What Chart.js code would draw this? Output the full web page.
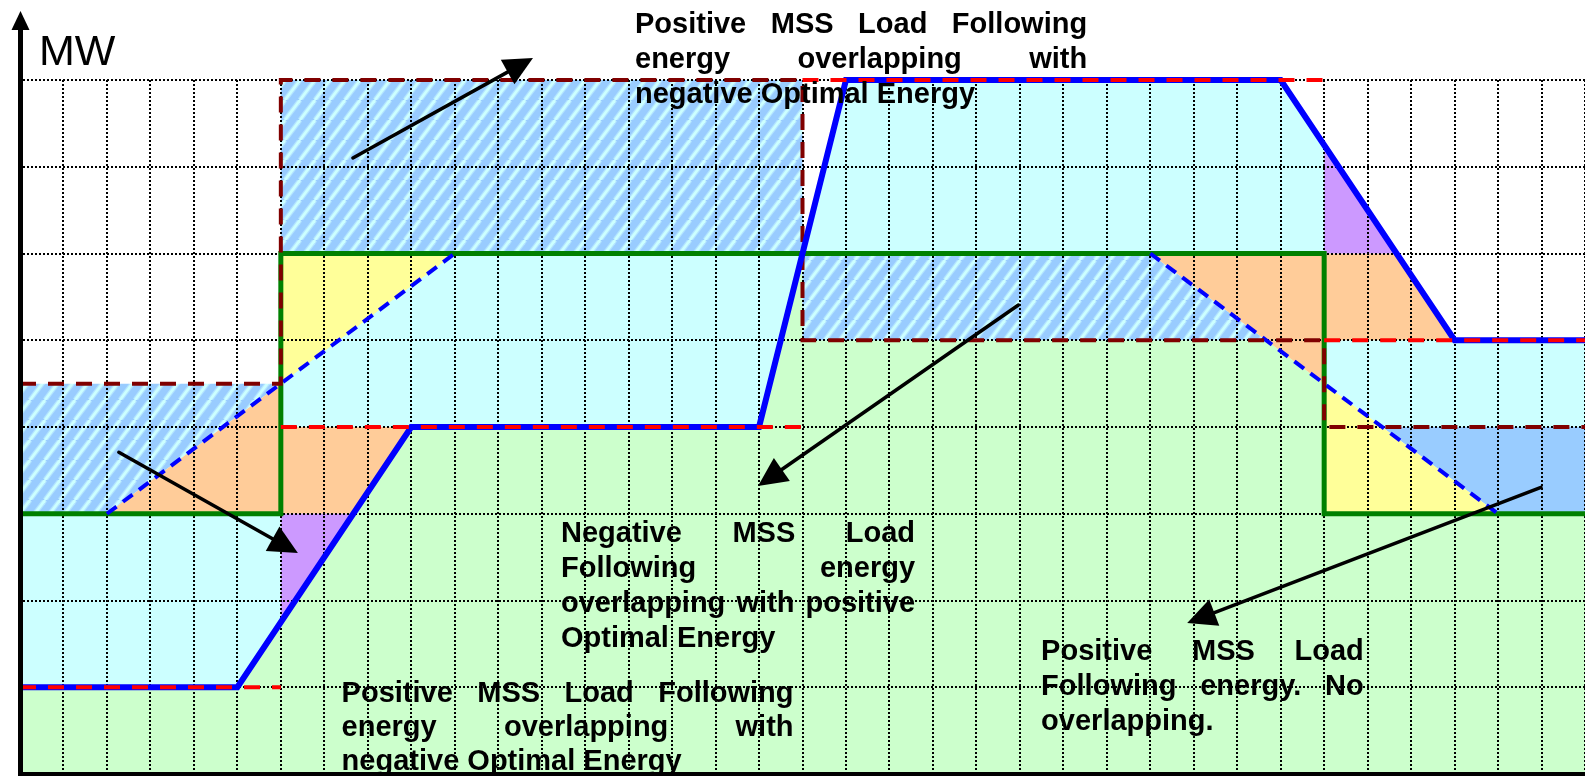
<!DOCTYPE html>
<html>
<head>
<meta charset="utf-8">
<title>MSS Load Following energy</title>
<script src="https://cdn.jsdelivr.net/npm/chart.js@4.4.1/dist/chart.umd.min.js"></script>
<style>
  html, body { margin: 0; padding: 0; background: #fff; overflow: hidden; }
  #wrap { position: relative; width: 1585px; height: 776px; }
  canvas { display: block; }
</style>
</head>
<body>
<div id="wrap"><canvas id="c" width="1585" height="776"></canvas></div>
<script>
// ---- Axes: time in grid columns, power (MW) in grid rows ----
const xRange = [0, 36];
const yRange = [0, 8];

// ---- Schedules (x, MW); null breaks the line ----
const optimalStep = [[0, 3], [6, 3], [6, 6], [30, 6], [30, 3], [36, 3]];
const optimalRamp = [[2, 3], [10, 6], null, [26, 6], [34, 3]];
const mssTarget   = [[0, 1], [6, 1], null, [6, 4], [18, 4], null, [18, 8], [30, 8], null, [30, 5], [36, 5]];
const mssRamp     = [[0, 1], [5, 1], [9, 4], [17, 4], [19, 8], [29, 8], [33, 5], [36, 5]];
const bandLimit   = [[0, 4.5], [6, 4.5], [6, 8], [18, 8], [18, 5], [30, 5], [30, 4], [36, 4]];

// ---- Energy areas (polygon corners) ----
const areaBase     = [[0, 0], [0, 1], [5, 1], [9, 4], [17, 4], [18, 6], [18, 5], [28.667, 5], [30, 4.5], [30, 3], [36, 3], [36, 0]];
const cyanLeft     = [[0, 1], [5, 1], [6, 1.75], [6, 3], [0, 3]];
const cyanMid      = [[6, 4], [17, 4], [18, 6], [19, 8], [29, 8], [30, 7.25], [30, 6], [6, 6]];
const cyanRight    = [[30, 4.5], [30, 5], [36, 5], [36, 4], [31.333, 4]];
const hatchLeft    = [[0, 3], [2, 3], [6, 4.5], [0, 4.5]];
const hatchTop     = [[6, 6], [6, 8], [18, 8], [18, 6]];
const hatchMid     = [[18, 5], [18, 6], [26, 6], [28.667, 5]];
const blueRight    = [[31.333, 4], [36, 4], [36, 3], [34, 3]];
const orangeLeft   = [[2, 3], [6, 3], [6, 4.5]];
const orangeLow    = [[6, 3], [7.667, 3], [9, 4], [6, 4]];
const orangeRight1 = [[26, 6], [30, 6], [30, 4.5]];
const orangeRight2 = [[30, 5], [30, 6], [31.667, 6], [33, 5]];
const purpleLeft   = [[6, 1.75], [6, 3], [7.667, 3]];
const purpleRight  = [[30, 6], [30, 7.25], [31.667, 6]];
const yellowLeft   = [[6, 4.5], [6, 6], [10, 6]];
const yellowRight  = [[30, 3], [30, 4.5], [34, 3]];

// ---- Annotations ----
const arrowTails = [[7.658, 7.101], [2.273, 3.708], [22.967, 5.406], [34.987, 3.305]];
const arrowTips  = [[11.80, 8.254], [6.392, 2.548], [16.977, 3.320], [26.849, 1.741]];
const noteLines = [
  ['Positive MSS Load Following', 'energy overlapping with', 'negative Optimal Energy'],
  ['Negative MSS Load', 'Following energy', 'overlapping with positive', 'Optimal Energy'],
  ['Positive MSS Load Following', 'energy overlapping with', 'negative Optimal Energy'],
  ['Positive MSS Load', 'Following energy. No', 'overlapping.']
];
const noteLeft  = [14.147, 12.444, 7.398, 23.489];
const noteRight = [24.548, 20.589, 17.794, 30.910];
const noteTop   = [8.542, 2.680, 0.830, 1.314];
const noteLineHeight = [35, 35, 34, 35];

// ---- Styling ----
const C = {
  green: '#CCFFCC', cyan: '#CCFFFF', blue: '#99CCFF',
  orange: '#FFCC99', yellow: '#FFFF99', purple: '#CC99FF'
};
const FONT = '"Liberation Sans", Arial, Helvetica, sans-serif';

const canvas = document.getElementById('c');
const ctx0 = canvas.getContext('2d');

function makeHatch() {
  const w = 15, h = 20;
  const t = document.createElement('canvas');
  t.width = w; t.height = h;
  const g = t.getContext('2d');
  g.fillStyle = C.blue;
  g.fillRect(0, 0, w, h);
  const stripe = (lw, col) => {
    g.strokeStyle = col; g.lineWidth = lw;
    for (let k = -1; k <= 1; k++) {
      g.beginPath(); g.moveTo(k * w, h); g.lineTo(k * w + w, 0); g.stroke();
    }
  };
  stripe(5, '#B4E4FF');
  stripe(2.6, '#CCFFFF');
  return ctx0.createPattern(t, 'repeat');
}
const hatch = makeHatch();

const toXY = pts => pts.map((p, i) => p ? {x: p[0], y: p[1]} : {x: pts[i - 1][0], y: null});

const fillLayers = [
  [areaBase, C.green],
  [cyanLeft, C.cyan], [cyanMid, C.cyan], [cyanRight, C.cyan],
  [hatchLeft, hatch], [hatchTop, hatch], [hatchMid, hatch],
  [blueRight, C.blue],
  [orangeLeft, C.orange], [orangeLow, C.orange], [orangeRight1, C.orange], [orangeRight2, C.orange],
  [purpleLeft, C.purple], [purpleRight, C.purple],
  [yellowLeft, C.yellow], [yellowRight, C.yellow]
];

const lineLayers = [
  {label: 'Optimal Energy', data: optimalStep, color: '#008000', width: 5, dash: []},
  {label: 'Optimal Energy (ramped)', data: optimalRamp, color: '#0000FF', width: 4, dash: [12, 8]},
  {label: 'Band limit', data: bandLimit, color: '#800000', width: 4, dash: [16, 12]},
  {label: 'MSS Load Following', data: mssRamp, color: '#0000FF', width: 6, dash: []},
  {label: 'MSS target', data: mssTarget, color: '#FF0000', width: 4, dash: [16, 12]}
];

const datasets = [];
fillLayers.forEach(([pts, col], i) => {
  datasets.push({
    data: toXY(pts),
    backgroundColor: col,
    borderColor: 'rgba(0,0,0,0)',
    borderWidth: 0,
    fill: 'shape',
    pointRadius: 0,
    tension: 0,
    order: 1000 - i
  });
});
lineLayers.forEach((l, i) => {
  datasets.push({
    label: l.label,
    data: toXY(l.data),
    borderColor: l.color,
    borderWidth: l.width,
    borderDash: l.dash,
    borderCapStyle: 'butt',
    borderJoinStyle: 'miter',
    fill: false,
    pointRadius: 0,
    tension: 0,
    spanGaps: false,
    clip: 8,
    order: 100 - i
  });
});

// Axis arrow, unit label, arrows and notes
const overlay = {
  id: 'overlay',
  afterDraw(chart) {
    const {ctx, chartArea: a, scales: {x, y}} = chart;
    ctx.save();

    // vertical axis extension with arrow head
    const ax = a.left + 0.5;
    ctx.strokeStyle = '#000';
    ctx.fillStyle = '#000';
    ctx.lineWidth = 5;
    ctx.beginPath(); ctx.moveTo(ax, a.top + 2); ctx.lineTo(ax, a.top - 52); ctx.stroke();
    ctx.beginPath();
    ctx.moveTo(ax - 9, a.top - 50);
    ctx.lineTo(ax + 9, a.top - 50);
    ctx.lineTo(ax, a.top - 69);
    ctx.closePath(); ctx.fill();

    ctx.font = '43px ' + FONT;
    ctx.textBaseline = 'alphabetic';
    ctx.textAlign = 'left';
    ctx.fillText('MW', a.left + 19, a.top - 15);

    // arrows
    const headLen = 29, headHalf = 14;
    arrowTails.forEach((t, i) => {
      const x1 = x.getPixelForValue(t[0]), y1 = y.getPixelForValue(t[1]);
      const x2 = x.getPixelForValue(arrowTips[i][0]), y2 = y.getPixelForValue(arrowTips[i][1]);
      const len = Math.hypot(x2 - x1, y2 - y1);
      const ux = (x2 - x1) / len, uy = (y2 - y1) / len;
      const bx = x2 - ux * headLen, by = y2 - uy * headLen;
      ctx.lineWidth = 3.5;
      ctx.lineCap = 'round';
      ctx.beginPath(); ctx.moveTo(x1, y1); ctx.lineTo(bx + ux * 4, by + uy * 4); ctx.stroke();
      ctx.beginPath();
      ctx.moveTo(x2, y2);
      ctx.lineTo(bx - uy * headHalf, by + ux * headHalf);
      ctx.lineTo(bx + uy * headHalf, by - ux * headHalf);
      ctx.closePath(); ctx.fill();
    });

    // justified notes
    ctx.font = 'bold 29px ' + FONT;
    noteLines.forEach((lines, b) => {
      const left = x.getPixelForValue(noteLeft[b]);
      const right = x.getPixelForValue(noteRight[b]);
      const top = y.getPixelForValue(noteTop[b]);
      lines.forEach((line, k) => {
        const yy = top + k * noteLineHeight[b];
        const words = line.split(' ');
        if (k === lines.length - 1 || words.length < 2) {
          ctx.fillText(line, left, yy);
          return;
        }
        const widths = words.map(w => ctx.measureText(w).width);
        const total = widths.reduce((s, v) => s + v, 0);
        const gap = (right - left - total) / (words.length - 1);
        let cx = left;
        words.forEach((w, j) => { ctx.fillText(w, cx, yy); cx += widths[j] + gap; });
      });
    });
    ctx.restore();
  }
};

const gridStyle = {
  color: '#000',
  lineWidth: 2,
  drawTicks: false,
  drawOnChartArea: true
};

new Chart(canvas, {
  type: 'line',
  data: {datasets},
  options: {
    responsive: false,
    animation: false,
    events: [],
    layout: {padding: {left: 20, right: 0, top: 80, bottom: 2}},
    plugins: {
      legend: {display: false},
      tooltip: {enabled: false},
      filler: {drawTime: 'beforeDraw'}
    },
    scales: {
      x: {
        type: 'linear',
        min: xRange[0], max: xRange[1],
        ticks: {display: false, stepSize: 1},
        grid: gridStyle,
        border: {display: true, color: '#000', width: 4, dash: [2, 2], z: 1},
        afterFit(s) { s.height = 0; }
      },
      y: {
        type: 'linear',
        min: yRange[0], max: yRange[1],
        ticks: {display: false, stepSize: 1},
        grid: gridStyle,
        border: {display: true, color: '#000', width: 5, dash: [2, 2], z: 1},
        afterFit(s) { s.width = 0; }
      }
    }
  },
  plugins: [overlay]
});
</script>
</body>
</html>
